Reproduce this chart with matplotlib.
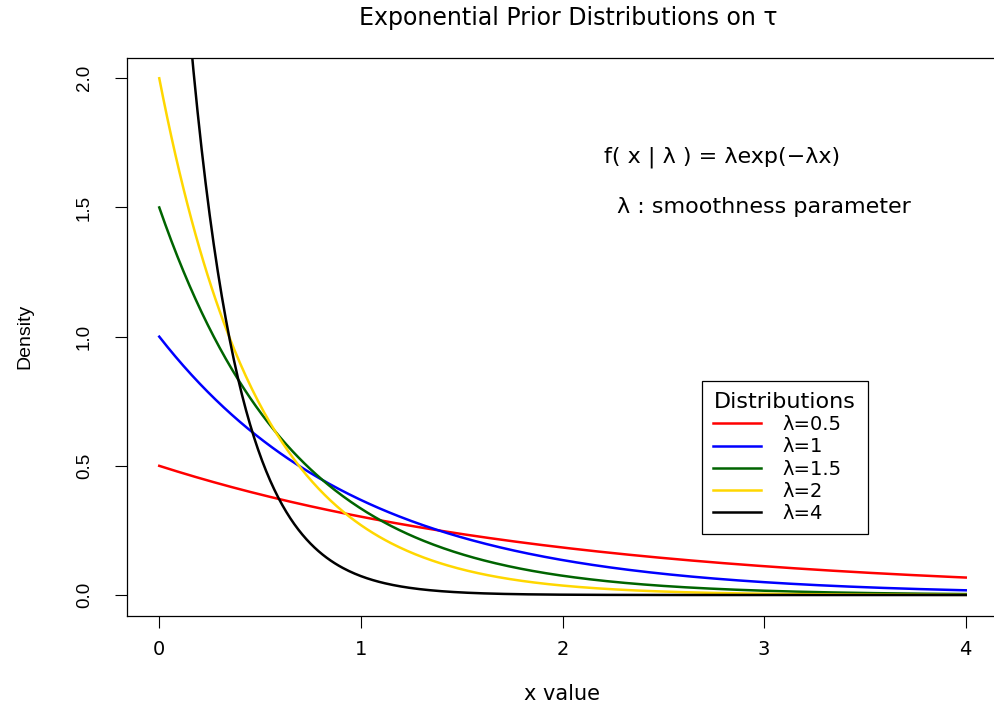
import numpy as np
from matplotlib import pyplot as plt

plt.rcParams['font.family'] = ['DejaVu Sans']

# rate parameters shown in the legend, one curve each
lambdas = [0.5, 1, 1.5, 2, 4]
labels = ['λ=0.5', 'λ=1', 'λ=1.5', 'λ=2', 'λ=4']
colors = ['#FF0000', '#0000FF', '#006400', '#FFD700', '#000000']
x_range = (0, 4)
xticks = [0, 1, 2, 3, 4]
yticks = [0.0, 0.5, 1.0, 1.5, 2.0]
ytick_labels = ['0.0', '0.5', '1.0', '1.5', '2.0']


def exp_density(x: np.ndarray, lam: float) -> np.ndarray:
    # f(x | lambda) = lambda * exp(-lambda * x), as printed on the chart
    return lam * np.exp(-lam * x)


W, H = 994, 706
fig = plt.figure(figsize=(W / 100, H / 100), dpi=100)
ax = fig.add_axes([127 / W, (H - 615.7) / H, (998 - 127) / W, (615.7 - 57.6) / H])

x = np.linspace(*x_range, 401)
for lam, lab, col in zip(lambdas, labels, colors):
    ax.plot(x, exp_density(x, lam), color=col, lw=1.8, label=lab)

ax.set_xlim(-0.16, 4.16)
ax.set_ylim(-0.08, 2.08)
ax.set_xticks(xticks)
ax.set_yticks(yticks)
ax.set_yticklabels(ytick_labels, rotation=90, va='center',
                   family='Liberation Sans', fontsize=13.5)
ax.tick_params(axis='both', direction='out', length=8.5, width=0.8)
ax.tick_params(axis='x', pad=9, labelsize=14)
ax.tick_params(axis='y', pad=16)
for s in ax.spines.values():
    s.set_linewidth(0.9)

ax.set_xlabel('x value', fontsize=15, labelpad=18)
ax.set_ylabel('Density', fontsize=14, family='Liberation Sans', labelpad=31)
fig.text(0.5 + 71 / W, 1 - 18 / H, 'Exponential Prior Distributions on τ',
         ha='center', va='center', fontsize=17)

ax.text(2.79, 1.694, 'f( x | λ ) = λexp(−λx)', ha='center', va='center', fontsize=16)
ax.text(3.0, 1.50, 'λ : smoothness parameter', ha='center', va='center', fontsize=16)

leg = ax.legend(title='Distributions', loc='upper left', mode='expand',
                bbox_to_anchor=(702 / W, 1 - 532 / H, 166 / W, 151 / H),
                bbox_transform=fig.transFigure, alignment='center',
                borderaxespad=0, fancybox=False, framealpha=1, edgecolor='black',
                fontsize=14, title_fontsize=16, handlelength=2.5, handletextpad=1.1,
                labelspacing=0.17, borderpad=0.55)
leg.get_frame().set_linewidth(0.9)

fig.savefig('out.png', dpi=100)
